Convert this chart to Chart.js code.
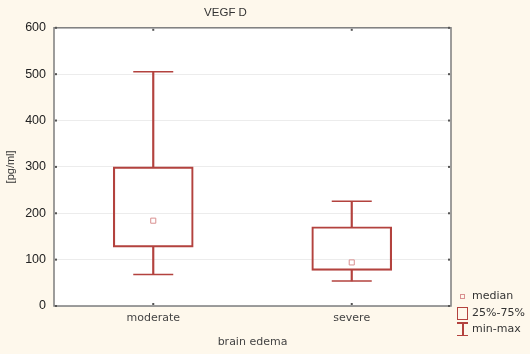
<!DOCTYPE html>
<html lang="en">
<head>
  <meta charset="UTF-8">
  <title>VEGF D - brain edema</title>
  <script src="https://cdn.jsdelivr.net/npm/chart.js"></script>
  <style>
    body {
      margin: 0;
      background: #fef8ec;
      font-family: 'DejaVu Sans', sans-serif;
    }
    .wrap {
      position: relative;
      width: 530px;
      height: 354px;
    }
    .legend {
      position: absolute;
      left: 455px;
      top: 288px;
      font-size: 11px;
      color: #333;
      line-height: 16.5px;
    }
    .legend div {
      position: relative;
      padding-left: 17px;
      white-space: nowrap;
    }
    .legend .sym { position: absolute; }
    .sym.med {
      left: 5px; top: 6px; width: 3px; height: 3px;
      border: 1px solid #d99090;
    }
    .sym.box {
      left: 2px; top: 2px; width: 9px; height: 11px;
      border: 1.5px solid #b3423e;
    }
    .sym.wh {
      left: 2px; top: 1px; width: 11px; height: 14px;
    }
    .sym.wh::before {
      content: ""; position: absolute; left: 5px; top: 0; width: 1.5px; height: 14px; background: #b3423e;
    }
    .sym.wh::after {
      content: ""; position: absolute; left: 0; bottom: 0; width: 11px; height: 1.5px; background: #b3423e;
    }
    .sym.wh i {
      position: absolute; left: 0; top: 0; width: 11px; height: 1.5px; background: #b3423e;
    }
  </style>
</head>
<body>
  <div class="wrap">
    <canvas id="chartBox" width="530" height="354"></canvas>
    <div class="legend">
      <div><span class="sym med"></span>median</div>
      <div><span class="sym box"></span>25%-75%</div>
      <div><span class="sym wh"><i></i></span>min-max</div>
    </div>
  </div>

  <script>
    const groups = ['moderate', 'severe'];
    const mins = [68, 54];
    const q1s = [127, 77];
    const medians = [184, 94];
    const q3s = [300, 171];
    const maxs = [505, 226];
    const yTicks = [0, 100, 200, 300, 400, 500, 600];

    const red = '#b3423e';
    const pink = '#d99090';

    const frame = {
      id: 'frame',
      beforeDraw(chart) {
        const a = chart.chartArea, c = chart.ctx;
        c.save();
        c.fillStyle = '#ffffff';
        c.fillRect(a.left, a.top, a.right - a.left, a.bottom - a.top);
        c.restore();
      },
      afterDatasetsDraw(chart) {
        const a = chart.chartArea, c = chart.ctx;
        const x = chart.scales.x, y = chart.scales.y;
        c.save();
        c.strokeStyle = '#7d7d7d';
        c.lineWidth = 1.5;
        c.strokeRect(a.left, a.top, a.right - a.left, a.bottom - a.top);
        c.fillStyle = '#555';
        // tiny inside ticks
        yTicks.forEach(v => {
          const py = y.getPixelForValue(v);
          c.fillRect(a.right - 3, py - 1, 2, 2);
          c.fillRect(a.left + 1, py - 1, 2, 2);
        });
        groups.forEach((g, i) => {
          const px = x.getPixelForValue(i);
          c.fillRect(px - 1, a.top + 1, 2, 2);
          c.fillRect(px - 1, a.bottom - 3, 2, 2);
        });
        c.restore();
      }
    };

    const lower = groups.map((g, i) => [mins[i], q1s[i]]);
    const upper = groups.map((g, i) => [q3s[i], maxs[i]]);
    const boxes = groups.map((g, i) => [q1s[i], q3s[i]]);

    new Chart(document.getElementById('chartBox'), {
      type: 'bar',
      data: {
        labels: groups,
        datasets: [
          {
            label: '25%-75%',
            data: boxes,
            backgroundColor: 'rgba(255,255,255,0)',
            borderColor: red,
            borderWidth: 1.5,
            borderSkipped: false,
            barThickness: 80,
            grouped: false
          },
          {
            label: 'upper',
            data: upper,
            backgroundColor: red,
            barThickness: 1.5,
            grouped: false
          },
          {
            label: 'lower',
            data: lower,
            backgroundColor: red,
            barThickness: 1.5,
            grouped: false
          },
          {
            type: 'line',
            label: 'max',
            data: maxs,
            showLine: false,
            pointStyle: 'line',
            pointRadius: 20,
            borderColor: red,
            borderWidth: 1.5
          },
          {
            type: 'line',
            label: 'min',
            data: mins,
            showLine: false,
            pointStyle: 'line',
            pointRadius: 20,
            borderColor: red,
            borderWidth: 1.5
          },
          {
            type: 'line',
            label: 'median',
            data: medians,
            showLine: false,
            pointStyle: 'rect',
            pointRadius: 3.6,
            borderColor: pink,
            backgroundColor: '#ffffff',
            borderWidth: 1
          }
        ]
      },
      options: {
        responsive: false,
        animation: false,
        layout: { padding: { left: 0, right: 79, top: 0, bottom: 0 } },
        plugins: {
          legend: { display: false },
          tooltip: { enabled: false },
          title: {
            display: true,
            text: 'VEGF D',
            color: '#333',
            font: { family: 'Liberation Sans', size: 11.5, weight: 'normal' },
            padding: { top: 6, bottom: 8 }
          }
        },
        scales: {
          x: {
            offset: true,
            grid: { display: false, drawTicks: false },
            border: { display: false },
            ticks: {
              color: '#444',
              padding: 6,
              font: { family: 'DejaVu Sans', size: 11 }
            },
            title: {
              display: true,
              text: 'brain edema',
              color: '#444',
              padding: 5,
              font: { family: 'DejaVu Sans', size: 11 }
            },
            afterFit(scale) { scale.height = 48; }
          },
          y: {
            min: 0,
            max: 600,
            afterBuildTicks(scale) { scale.ticks = yTicks.map(v => ({ value: v })); },
            grid: { color: '#ececec', drawTicks: false },
            border: { display: false },
            ticks: {
              color: '#222',
              padding: 8,
              font: { family: 'Liberation Sans', size: 12.5 }
            },
            title: {
              display: true,
              text: '[pg/ml]',
              color: '#333',
              padding: 4,
              font: { family: 'Liberation Sans', size: 11 }
            },
            afterFit(scale) { scale.width = 54; }
          }
        }
      },
      plugins: [frame]
    });
  </script>
</body>
</html>
